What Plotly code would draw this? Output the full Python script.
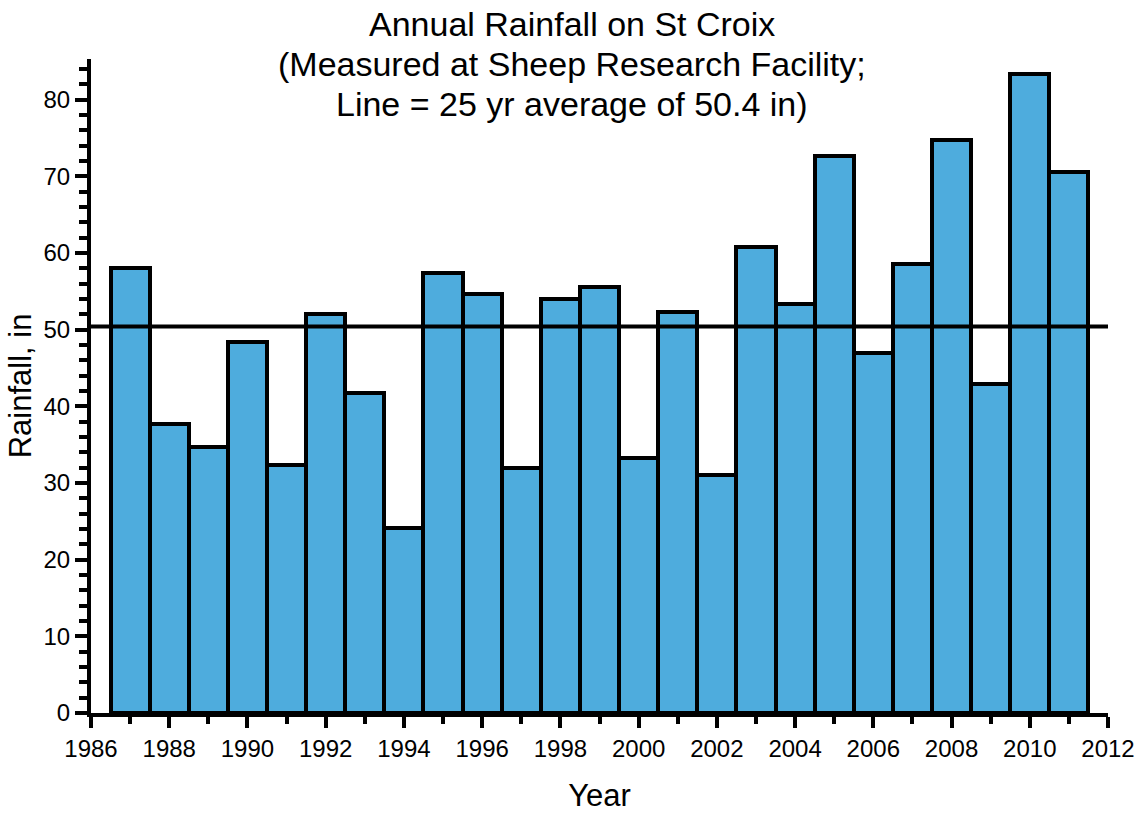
import plotly.graph_objects as go

years = list(range(1987, 2012))
rainfall = [58.1, 37.7, 34.7, 48.4, 32.3, 52.1, 41.8, 24.1, 57.4, 54.6,
            32.0, 54.0, 55.5, 33.3, 52.3, 31.1, 60.8, 53.4, 72.7, 47.0,
            58.5, 74.8, 42.9, 83.4, 70.6]
average = 50.4
avg_x = [1986, 2012]
title_lines = ["Annual Rainfall on St Croix",
               "(Measured at Sheep Research Facility;",
               "Line = 25 yr average of 50.4 in)"]

FONT = "Liberation Sans, Arial, Helvetica, sans-serif"
W, H = 1144, 813
ML, MR, MT, MB = 91, 36, 59, 100
PW, PH = W - ML - MR, H - MT - MB

fig = go.Figure()
fig.add_trace(go.Bar(
    x=years, y=rainfall, width=1,
    marker=dict(color="#4EACDD", line=dict(color="black", width=4)),
    showlegend=False,
))
fig.add_trace(go.Scatter(
    x=avg_x, y=[average, average], mode="lines",
    line=dict(color="black", width=4), showlegend=False,
))

line_centers_px = [24, 64, 104]
for txt, py in zip(title_lines, line_centers_px):
    fig.add_annotation(
        text=txt, xref="paper", yref="paper",
        x=(W / 2 - ML) / PW, y=(H - MB - py) / PH,
        xanchor="center", yanchor="middle", showarrow=False,
        font=dict(size=34, family=FONT, color="black"),
    )

fig.update_layout(
    width=W, height=H,
    paper_bgcolor="white", plot_bgcolor="white",
    margin=dict(l=ML, r=MR, t=MT, b=MB, autoexpand=False),
    font=dict(family=FONT, color="black"),
    bargap=0,
)
fig.update_xaxes(
    range=[1986, 2012], tickmode="linear", tick0=1986, dtick=2,
    showline=True, linecolor="black", linewidth=4,
    ticks="outside", ticklen=11, tickwidth=4, tickcolor="black",
    minor=dict(ticks="outside", ticklen=7, tickwidth=4, tickcolor="black", dtick=1, tick0=1986),
    showgrid=False, zeroline=False, automargin=False,
    tickfont=dict(size=24, family=FONT, color="black"),
    title=dict(text="Year", font=dict(size=31, family=FONT, color="black"), standoff=27),
)
fig.update_yaxes(
    range=[0, 85.3], tickmode="linear", tick0=0, dtick=10,
    showline=True, linecolor="black", linewidth=4,
    ticks="outside", ticklen=12, tickwidth=4, tickcolor="black",
    minor=dict(ticks="outside", ticklen=8, tickwidth=4, tickcolor="black", dtick=2, tick0=0),
    showgrid=False, zeroline=False, automargin=False,
    tickfont=dict(size=24, family=FONT, color="black"),
    title=dict(text="Rainfall, in", font=dict(size=31, family=FONT, color="black"), standoff=4),
)

fig.write_html("out.html", config={"displayModeBar": False},
               post_script="document.body.style.margin='0';")
